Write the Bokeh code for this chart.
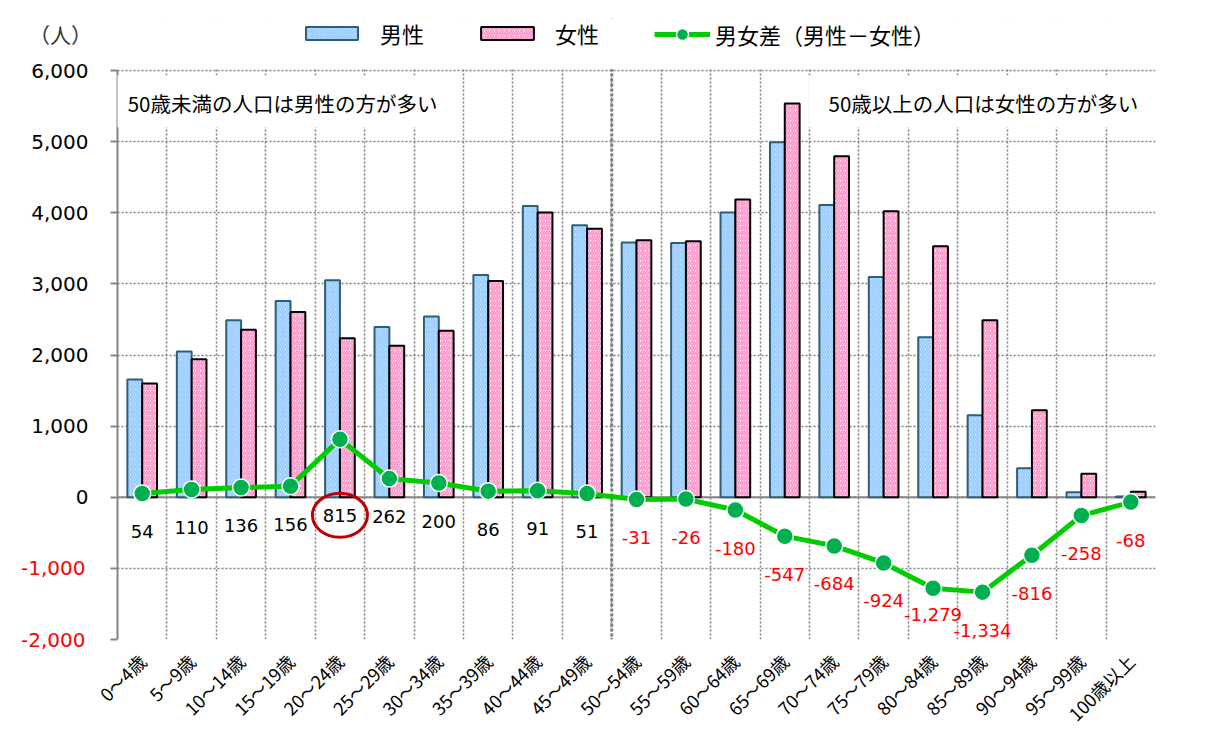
import math
from bokeh.plotting import figure
from bokeh.models import (ColumnDataSource, FixedTicker, CustomJSTickFormatter, Span, Label,
                          LabelSet, BoxAnnotation, Legend, LegendItem, Range1d, LinearAxis)
from bokeh.transform import dodge
from bokeh.core.properties import value
from bokeh.embed import file_html
from bokeh.resources import INLINE

# ---------------- data ----------------
categories = ["0～4歳", "5～9歳", "10～14歳", "15～19歳", "20～24歳", "25～29歳", "30～34歳",
              "35～39歳", "40～44歳", "45～49歳", "50～54歳", "55～59歳", "60～64歳", "65～69歳",
              "70～74歳", "75～79歳", "80～84歳", "85～89歳", "90～94歳", "95～99歳", "100歳以上"]
male = [1655, 2050, 2490, 2760, 3050, 2392, 2540, 3125, 4095, 3825, 3583,
        3574, 4005, 4990, 4110, 3098, 2250, 1154, 406, 72, 11]
female = [1601, 1940, 2354, 2604, 2235, 2130, 2340, 3039, 4004, 3774, 3614,
          3600, 4185, 5537, 4794, 4022, 3529, 2488, 1222, 330, 79]
diff = [54, 110, 136, 156, 815, 262, 200, 86, 91, 51, -31,
        -26, -180, -547, -684, -924, -1279, -1334, -816, -258, -68]
y_ticks = [-2000, -1000, 0, 1000, 2000, 3000, 4000, 5000, 6000]
series_names = ["男性", "女性", "男女差（男性－女性）"]
note_left = "50歳未満の人口は男性の方が多い"
note_right = "50歳以上の人口は女性の方が多い"
unit_label = "（人）"
highlight = "20～24歳"

# ---------------- style / layout ----------------
label_gap_px = [38] * len(categories)
label_gap_px[4] = 76
label_gap_px[16] = 26
JP = "Noto Sans CJK JP"
NUM = "DejaVu Sans"
GRID = "#7f7f7f"
AXIS = "#868686"

W, H = 1206, 751
ML, MR, MT, MB = 117, 51, 18, 112       # frame extends up to hold the legend row
PLOT_TOP = 70                             # pixel row of the top tick
frame_h = H - MT - MB
plot_px = H - MB - PLOT_TOP
units_per_px = (y_ticks[-1] - y_ticks[0]) / plot_px
y_end = y_ticks[-1] + (PLOT_TOP - MT) * units_per_px

idx = list(range(len(categories)))
src = ColumnDataSource(dict(
    idx=idx, male=male, female=female, diff=diff,
    lab=[f"{d:,}" for d in diff],
    lab_color=["#000000" if d >= 0 else "#FF0000" for d in diff],
    lab_off=[-g for g in label_gap_px],
))

p = figure(width=W, height=H, output_backend="svg", toolbar_location=None, title=None,
           x_range=Range1d(-0.5, len(categories) - 0.5),
           y_range=Range1d(y_ticks[0], y_end),
           min_border_left=ML, min_border_right=MR, min_border_top=MT, min_border_bottom=MB)
p.outline_line_color = None
p.background_fill_color = "white"

# grid
p.ygrid.ticker = FixedTicker(ticks=y_ticks)
p.ygrid.grid_line_color = GRID
p.ygrid.grid_line_dash = "2 2"
p.ygrid.grid_line_width = 1.5
p.xgrid.ticker = FixedTicker(ticks=[i + 0.5 for i in idx])
p.xgrid.grid_line_color = GRID
p.xgrid.grid_line_dash = "2 2"
p.xgrid.grid_line_width = 1.5

# y axis (black positive labels)
p.yaxis.ticker = FixedTicker(ticks=y_ticks)
p.yaxis.bounds = (y_ticks[0], y_ticks[-1])
p.yaxis.formatter = CustomJSTickFormatter(
    code="return tick < 0 ? '' : tick.toLocaleString('en-US');")
p.yaxis.axis_line_color = AXIS
p.yaxis.axis_line_width = 2
p.yaxis.major_tick_line_color = AXIS
p.yaxis.major_tick_line_width = 2
p.yaxis.major_tick_out = 7
p.yaxis.major_tick_in = 0
p.yaxis.minor_tick_line_color = None
p.yaxis.major_label_standoff = 22
p.yaxis.major_label_text_font = NUM
p.yaxis.major_label_text_font_size = "20px"
p.yaxis.major_label_text_color = "#000000"

# second left axis: red negative labels (pulled back under the first axis) and the unit label
neg = [t for t in y_ticks if t < 0]
ax_neg = LinearAxis(ticker=FixedTicker(ticks=neg),
                    formatter=CustomJSTickFormatter(code="return tick.toLocaleString('en-US');"),
                    axis_line_color=None, major_tick_line_color=None, minor_tick_line_color=None,
                    major_tick_out=0, major_tick_in=0, major_label_standoff=-57,
                    major_label_text_font=NUM, major_label_text_font_size="20px",
                    major_label_text_color="#FF0000",
                    axis_label="\n" + unit_label, axis_label_orientation="horizontal",
                    axis_label_align="end", axis_label_standoff=-74,
                    axis_label_text_font=JP, axis_label_text_font_size="21px",
                    axis_label_text_line_height=1.05,
                    axis_label_text_font_style="normal", axis_label_text_color="#333333")
p.add_layout(ax_neg, "left")

# x axis
p.xaxis.ticker = FixedTicker(ticks=idx)
p.xaxis.major_label_overrides = {i: c for i, c in zip(idx, categories)}
p.xaxis.major_label_orientation = math.pi / 4
p.xaxis.axis_line_color = None
p.xaxis.major_tick_line_color = None
p.xaxis.minor_tick_line_color = None
p.xaxis.major_tick_out = 0
p.xaxis.major_label_standoff = 18
p.xaxis.major_label_text_font = JP
p.xaxis.major_label_text_font_size = "18px"
p.xaxis.major_label_text_color = "#000000"

# zero line and divider
p.add_layout(Span(location=0, dimension="width", line_color=AXIS, line_width=2, level="underlay"))
p.add_layout(Span(location=9.5, dimension="height", line_color="#7f7f7f", line_width=3,
                  line_dash="3 2", level="underlay"))

# bars
r_m = p.vbar(x=dodge("idx", -0.15, range=p.x_range), top="male", bottom=0, width=0.3, source=src,
             fill_color="white", line_color="#2E5F73", line_width=2,
             hatch_pattern="\\", hatch_color="#99CCFF", hatch_weight=2, hatch_scale=5)
r_f = p.vbar(x=dodge("idx", 0.15, range=p.x_range), top="female", bottom=0, width=0.3, source=src,
             fill_color="white", line_color="#000000", line_width=2,
             hatch_pattern="/", hatch_color="#FF99CC", hatch_weight=2, hatch_scale=5)

# difference line
r_l = p.line(x="idx", y="diff", source=src, line_color="#00CC00", line_width=5)
r_s = p.scatter(x="idx", y="diff", source=src, size=17, fill_color="#00B050",
                line_color="white", line_width=1.5)

# data labels
p.add_layout(LabelSet(x="idx", y="diff", text="lab", source=src, y_offset="lab_off",
                      text_color="lab_color", text_align="center", text_baseline="middle",
                      text_font=value(NUM), text_font_size="18px"))

# highlight ellipse around the 20-24 label
hi = categories.index(highlight)
hi_src = ColumnDataSource(dict(x=[hi], y=[diff[hi] - label_gap_px[hi] * units_per_px]))
p.ellipse(x="x", y="y", width=55, height=44, width_units="screen", height_units="screen",
          source=hi_src, fill_color=None, line_color="#C00000", line_width=3)

# white mask over the legend row (above the top tick)
p.add_layout(BoxAnnotation(bottom=y_ticks[-1] + 1.2 * units_per_px,
                           fill_color="white", fill_alpha=1, line_color=None))

# note boxes
p.add_layout(BoxAnnotation(left=-0.58, right=6.14, bottom=5202, top=5934,
                           fill_color="white", fill_alpha=1, line_color=None))
p.add_layout(BoxAnnotation(left=13.48, right=20.4, bottom=5202, top=5934,
                           fill_color="white", fill_alpha=1, line_color=None))
p.add_layout(Label(x=2.84, y=5540, text=note_left, text_align="center", text_baseline="middle",
                   text_font=JP, text_font_size="20.5px", text_color="#000000"))
p.add_layout(Label(x=17.02, y=5540, text=note_right, text_align="center", text_baseline="middle",
                   text_font=JP, text_font_size="20.5px", text_color="#000000"))

# legends (location is relative to the frame's bottom-left corner)
fb = H - MB  # frame bottom pixel row
def make_legend(item, left_px, center_px, gw, gh, lh, standoff):
    h = max(gh, lh)
    lg = Legend(items=[item], location=(left_px - ML, fb - (center_px + h / 2)),
                orientation="horizontal",
                glyph_width=gw, glyph_height=gh, label_height=lh, label_width=10,
                label_standoff=standoff, padding=0, margin=0, spacing=0,
                border_line_color=None, background_fill_alpha=0,
                label_text_font=JP, label_text_font_size="22px", label_text_color="#000000")
    p.add_layout(lg)

make_legend(LegendItem(label=series_names[0], renderers=[r_m]), 299, 34.5, 65, 16, 28, 16)
make_legend(LegendItem(label=series_names[1], renderers=[r_f]), 474, 34.5, 66, 16, 28, 15)
make_legend(LegendItem(label=series_names[2], renderers=[r_l, r_s]), 654, 34.5, 56, 30, 30, 5)

open("out.html", "w").write(file_html(p, INLINE))
